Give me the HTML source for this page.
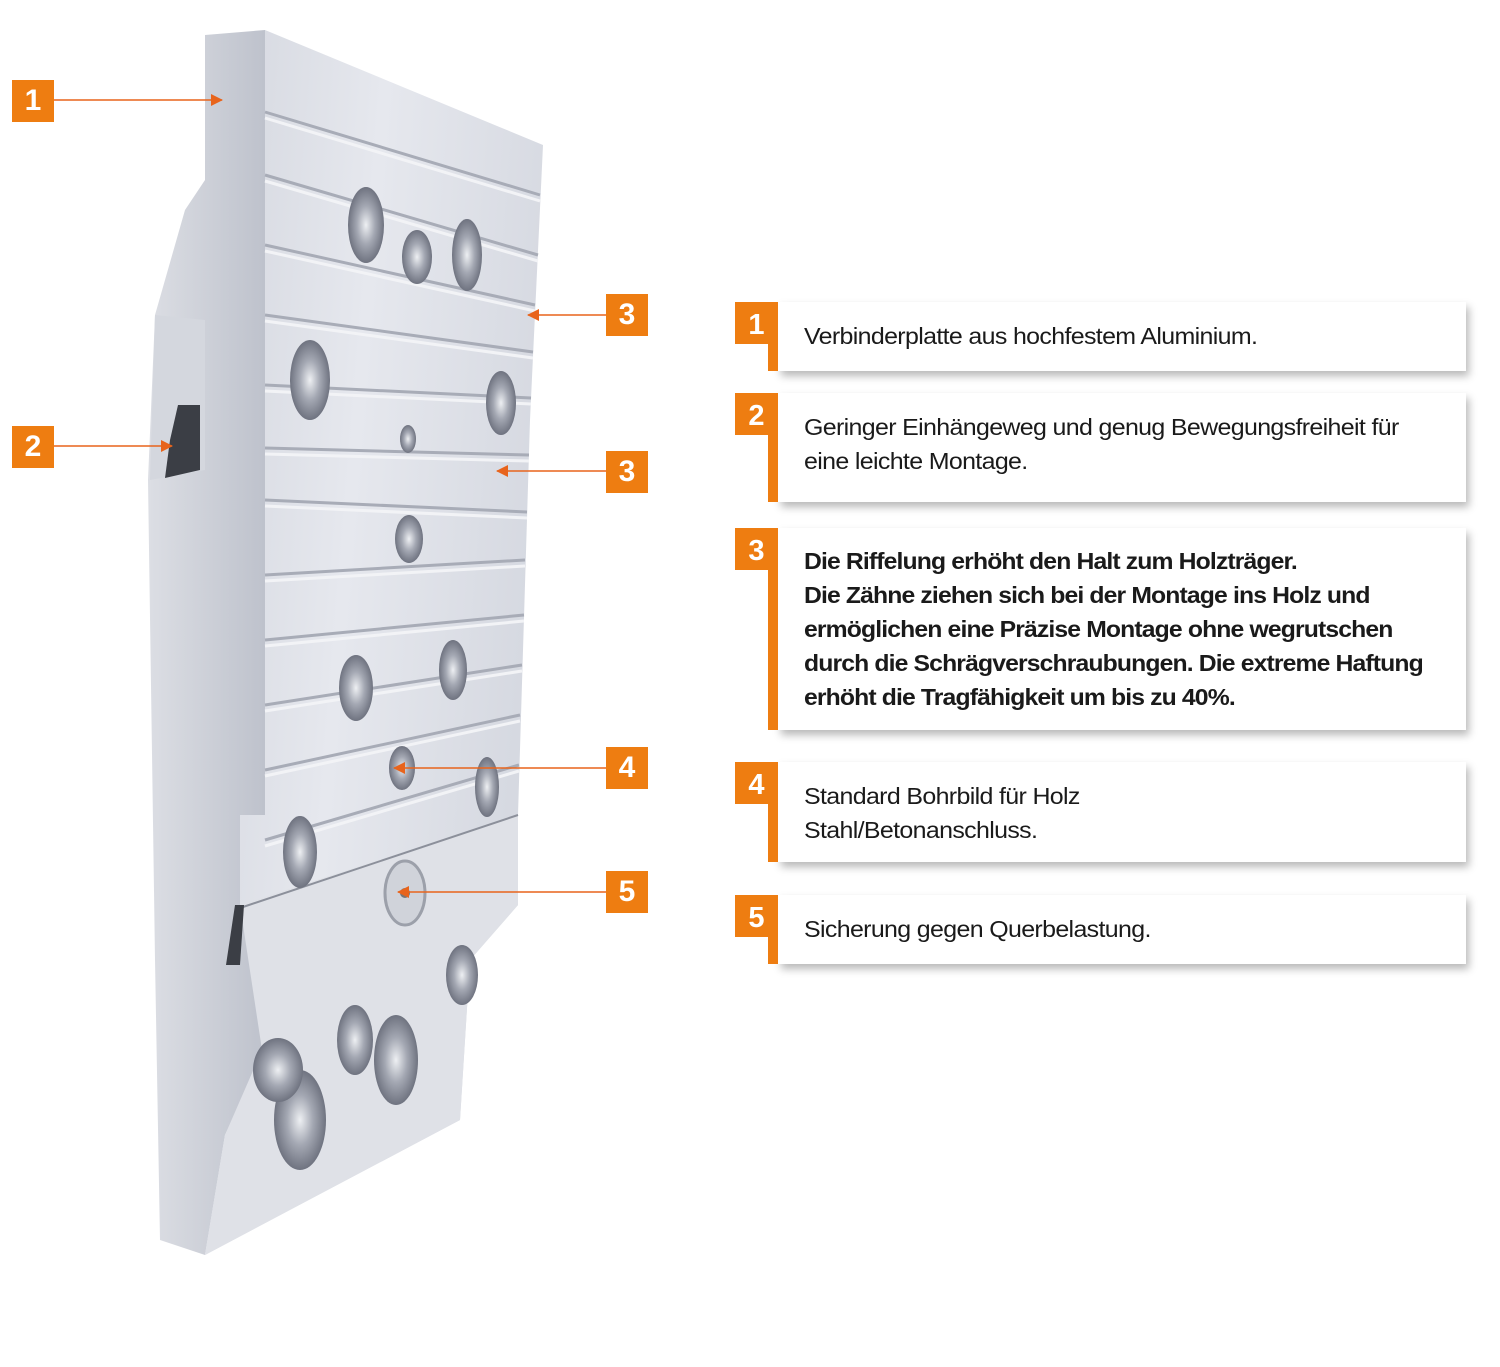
<!DOCTYPE html>
<html><head><meta charset="utf-8"><style>
html,body{margin:0;padding:0;background:#fff;}
body{width:1500px;height:1367px;position:relative;overflow:hidden;font-family:"Liberation Sans",sans-serif;}
.lb{position:absolute;width:42px;height:42px;background:#ee7d11;color:#fff;font-weight:bold;font-size:30px;line-height:42px;text-align:center;}
.card{position:absolute;left:778px;width:688px;background:#fff;box-shadow:3px 5px 8px rgba(0,0,0,.28);}
.bar{position:absolute;left:768px;width:10px;background:#ee7d11;}
.nb{position:absolute;left:735px;width:43px;height:42px;background:#ee7d11;color:#fff;font-weight:bold;font-size:29px;line-height:46px;text-align:center;}
.txt{position:absolute;left:804px;font-size:23px;line-height:34px;color:#1a1a1a;letter-spacing:-0.6px;transform:scaleX(1.085);transform-origin:left top;white-space:nowrap;}
.b{font-weight:bold;letter-spacing:-0.8px;transform:scaleX(1.075);}
</style></head><body>
<svg width="1500" height="1367" style="position:absolute;left:0;top:0">
<defs>
<linearGradient id="fr" x1="0" y1="0" x2="1" y2="0.3"><stop offset="0" stop-color="#d3d6de"/><stop offset="0.5" stop-color="#e6e8ee"/><stop offset="1" stop-color="#d6d9e1"/></linearGradient>
<linearGradient id="sd" x1="0" y1="0" x2="1" y2="0"><stop offset="0" stop-color="#dcdee4"/><stop offset="1" stop-color="#bec2cc"/></linearGradient>
<radialGradient id="ho"><stop offset="0" stop-color="#eef0f3"/><stop offset="0.5" stop-color="#a4a8b3"/><stop offset="1" stop-color="#6f7380"/></radialGradient>
<marker id="ar" markerWidth="12" markerHeight="12" refX="11" refY="6" orient="auto" markerUnits="userSpaceOnUse"><path d="M0,0 L12,6 L0,12 z" fill="#e8641c"/></marker>
</defs>
<polygon points="205,35 265,30 265,1050 225,1135 205,1255 160,1240 155,960 148,480 155,315 185,210 205,180" fill="url(#sd)"/>
<polygon points="265,30 543,145 530,420 518,815 518,905 470,960 460,1120 205,1255 225,1135 265,1050 265,910 240,910 240,815 265,815" fill="url(#fr)"/>
<polygon points="240,905 518,815 518,905 470,960 460,1120 205,1255 225,1135 262,1050" fill="#dfe1e7"/>
<line x1="240" y1="908" x2="518" y2="815" stroke="#8c909b" stroke-width="2"/>
<g stroke-width="3" fill="none">
<path d="M265,112 L540,195" stroke="#a8acb7"/><path d="M265,118 L540,201" stroke="#f2f3f6"/>
<path d="M265,175 L538,255" stroke="#a8acb7"/><path d="M265,181 L538,261" stroke="#f2f3f6"/>
<path d="M265,245 L535,305" stroke="#a8acb7"/><path d="M265,251 L535,311" stroke="#f2f3f6"/>
<path d="M265,315 L533,352" stroke="#a8acb7"/><path d="M265,321 L533,358" stroke="#f2f3f6"/>
<path d="M265,385 L531,398" stroke="#a8acb7"/><path d="M265,391 L531,404" stroke="#f2f3f6"/>
<path d="M265,448 L529,455" stroke="#a8acb7"/><path d="M265,454 L529,461" stroke="#f2f3f6"/>
<path d="M265,500 L527,512" stroke="#a8acb7"/><path d="M265,506 L527,518" stroke="#f2f3f6"/>
<path d="M265,575 L525,560" stroke="#a8acb7"/><path d="M265,581 L525,566" stroke="#f2f3f6"/>
<path d="M265,640 L524,615" stroke="#a8acb7"/><path d="M265,646 L524,621" stroke="#f2f3f6"/>
<path d="M265,705 L522,665" stroke="#a8acb7"/><path d="M265,711 L522,671" stroke="#f2f3f6"/>
<path d="M265,770 L520,715" stroke="#a8acb7"/><path d="M265,776 L520,721" stroke="#f2f3f6"/>
<path d="M265,840 L519,765" stroke="#a8acb7"/><path d="M265,846 L519,771" stroke="#f2f3f6"/>
</g>
<g fill="url(#ho)">
<ellipse cx="366" cy="225" rx="18" ry="38"/><ellipse cx="417" cy="257" rx="15" ry="27"/><ellipse cx="467" cy="255" rx="15" ry="36"/>
<ellipse cx="310" cy="380" rx="20" ry="40"/><ellipse cx="501" cy="403" rx="15" ry="32"/><ellipse cx="408" cy="439" rx="8" ry="14"/>
<ellipse cx="409" cy="539" rx="14" ry="24"/><ellipse cx="356" cy="688" rx="17" ry="33"/><ellipse cx="453" cy="670" rx="14" ry="30"/>
<ellipse cx="402" cy="768" rx="13" ry="22"/><ellipse cx="487" cy="787" rx="12" ry="30"/><ellipse cx="300" cy="852" rx="17" ry="36"/>
<ellipse cx="405" cy="893" rx="20" ry="32" fill="#d0d3da" stroke="#9ca0aa" stroke-width="3"/>
<ellipse cx="462" cy="975" rx="16" ry="30"/><ellipse cx="355" cy="1040" rx="18" ry="35"/><ellipse cx="396" cy="1060" rx="22" ry="45"/>
<ellipse cx="300" cy="1120" rx="26" ry="50"/><ellipse cx="278" cy="1070" rx="25" ry="32"/>
<path d="M155,315 L205,320 L205,470 L150,480 Z" fill="#d4d7de"/>
</g>
<path d="M178,405 L200,405 L200,470 L165,478 L170,440 Z" fill="#3b3e45"/>
<path d="M235,905 L244,905 L240,965 L226,965 Z" fill="#3b3e45"/>
<circle cx="405" cy="893" r="5" fill="#777"/>
<g stroke="#e8641c" stroke-width="1.5" marker-end="url(#ar)">
<line x1="54" y1="100" x2="222" y2="100"/>
<line x1="54" y1="446" x2="172" y2="446"/>
<line x1="606" y1="315" x2="528" y2="315"/>
<line x1="606" y1="471" x2="497" y2="471"/>
<line x1="606" y1="768" x2="394" y2="768"/>
<line x1="606" y1="892" x2="398" y2="892"/>
</g>
</svg>
<div class="lb" style="left:12px;top:80px">1</div>
<div class="lb" style="left:12px;top:426px">2</div>
<div class="lb" style="left:606px;top:294px">3</div>
<div class="lb" style="left:606px;top:451px">3</div>
<div class="lb" style="left:606px;top:747px">4</div>
<div class="lb" style="left:606px;top:871px">5</div>

<div class="card" style="top:302px;height:69px"></div><div class="bar" style="top:302px;height:69px"></div><div class="nb" style="top:302px">1</div>
<div class="txt" style="top:319px">Verbinderplatte aus hochfestem Aluminium.</div>

<div class="card" style="top:393px;height:109px"></div><div class="bar" style="top:393px;height:109px"></div><div class="nb" style="top:393px">2</div>
<div class="txt" style="top:410px">Geringer Einhängeweg und genug Bewegungsfreiheit für<br>eine leichte Montage.</div>

<div class="card" style="top:528px;height:202px"></div><div class="bar" style="top:528px;height:202px"></div><div class="nb" style="top:528px">3</div>
<div class="txt b" style="top:544px">Die Riffelung erhöht den Halt zum Holzträger.<br>Die Zähne ziehen sich bei der Montage ins Holz und<br>ermöglichen eine Präzise Montage ohne wegrutschen<br>durch die Schrägverschraubungen. Die extreme Haftung<br>erhöht die Tragfähigkeit um bis zu 40%.</div>

<div class="card" style="top:762px;height:100px"></div><div class="bar" style="top:762px;height:100px"></div><div class="nb" style="top:762px">4</div>
<div class="txt" style="top:779px">Standard Bohrbild für Holz<br>Stahl/Betonanschluss.</div>

<div class="card" style="top:895px;height:69px"></div><div class="bar" style="top:895px;height:69px"></div><div class="nb" style="top:895px">5</div>
<div class="txt" style="top:912px">Sicherung gegen Querbelastung.</div>
</body></html>
